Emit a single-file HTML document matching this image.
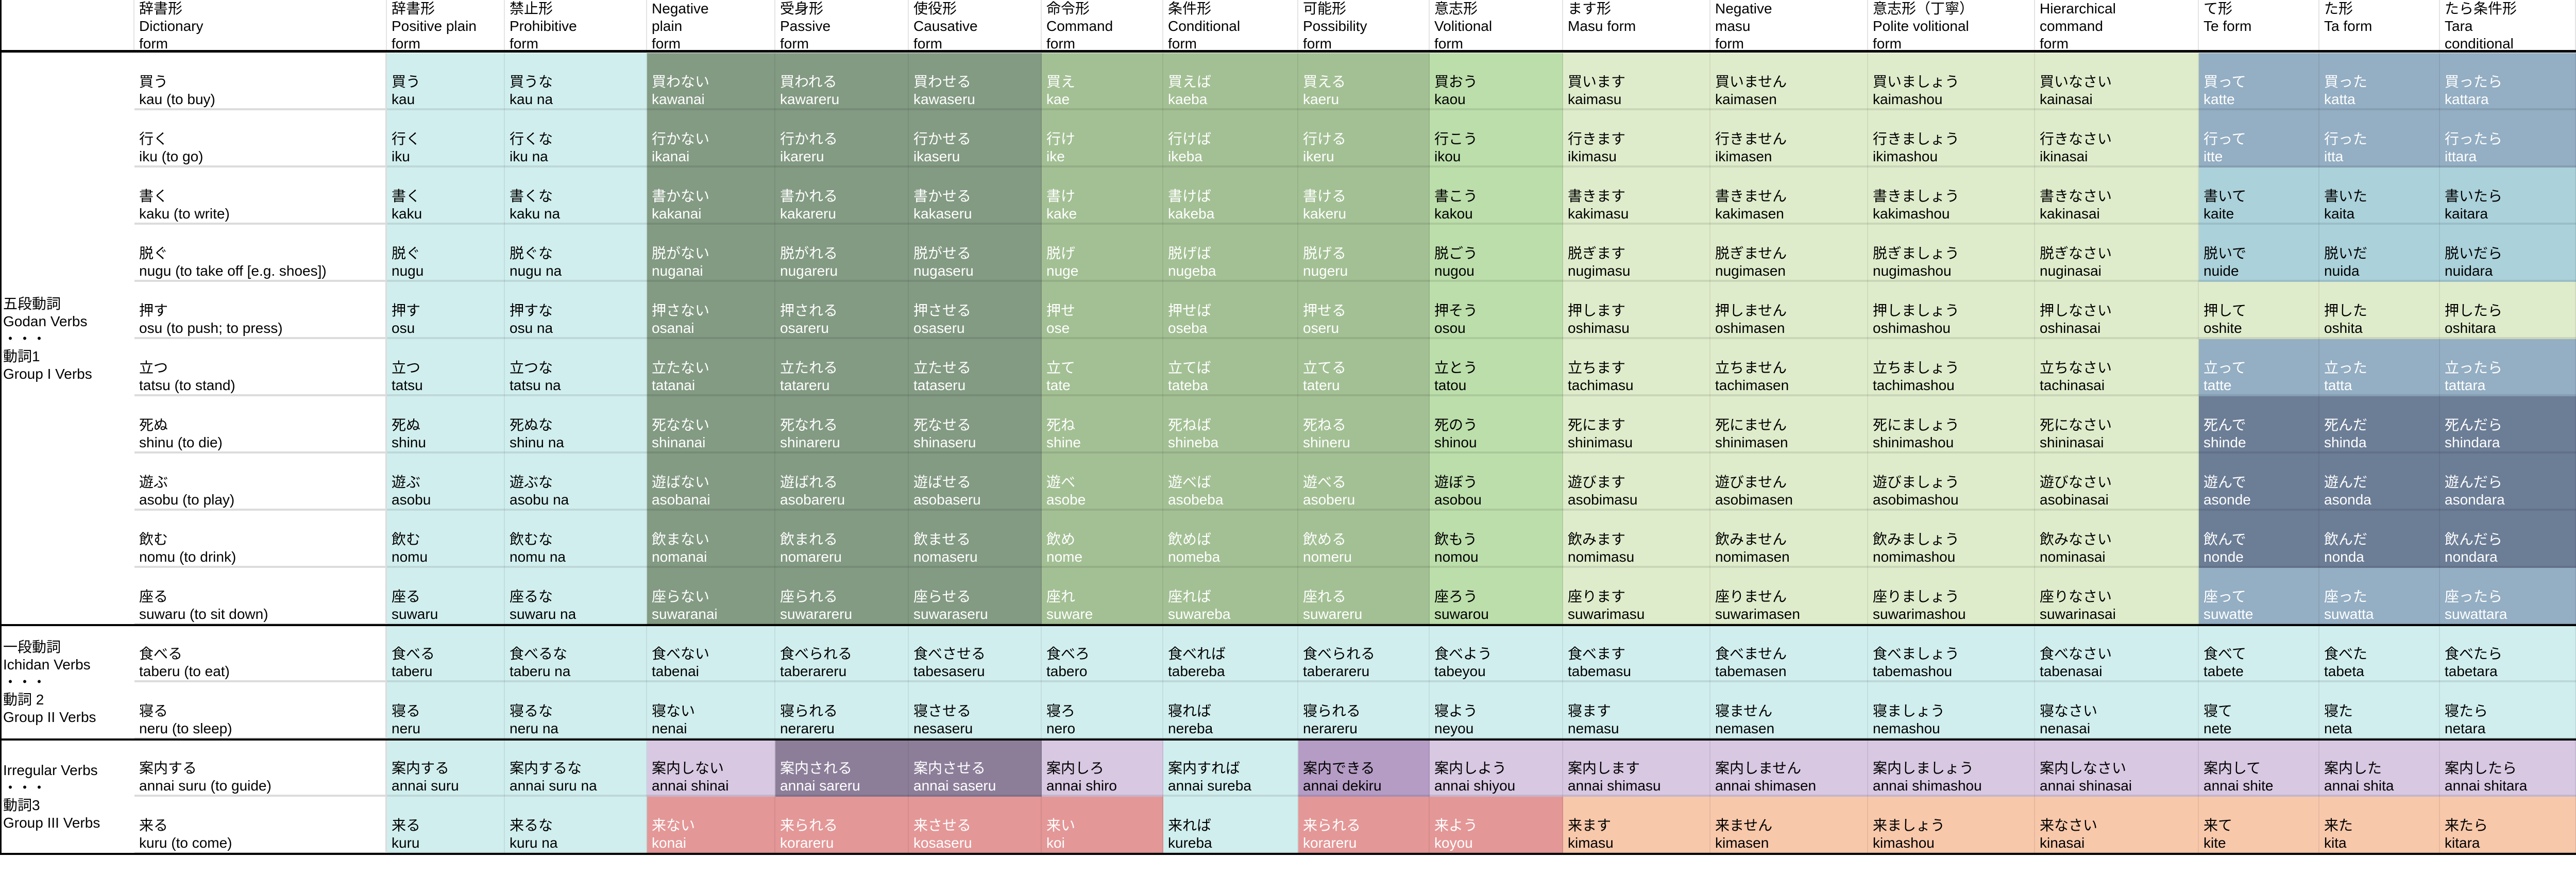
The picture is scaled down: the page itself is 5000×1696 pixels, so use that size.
<!DOCTYPE html>
<html><head><meta charset="utf-8">
<style>
html,body{margin:0;padding:0;background:#fff;}
#t{position:relative;width:5000px;height:1696px;overflow:hidden;background:#fff;font-family:"Liberation Sans","Noto Sans CJK JP",sans-serif;font-size:28px;line-height:34px;color:#000;}
.c{position:absolute;box-sizing:border-box;padding:0 0 4px 9px;display:flex;flex-direction:column;justify-content:flex-end;white-space:nowrap;overflow:hidden;box-shadow:inset -2px 0 0 rgba(0,0,0,0.07), inset 0 -4px 0 rgba(0,0,0,0.09);}
.h{position:absolute;box-sizing:border-box;padding:0 0 0 9px;white-space:nowrap;top:0;height:98px;box-shadow:inset -2px 0 0 #e4e4e4;}
.g{position:absolute;left:0;width:261px;box-sizing:border-box;padding-left:6px;display:flex;flex-direction:column;justify-content:center;line-height:34px;}
.ln{position:absolute;background:#000;}
</style></head>
<body>
<div id="t"></div>
<script>
const colEdges=[0,261,751,980,1256,1505,1764,2022,2258,2520,2775,3034,3320,3626,3950,4268,4502,4736,5000];
const headers=["","辞書形|Dictionary|form","辞書形|Positive plain|form","禁止形|Prohibitive|form","Negative|plain|form","受身形|Passive|form","使役形|Causative|form","命令形|Command|form","条件形|Conditional|form","可能形|Possibility|form","意志形|Volitional|form","ます形|Masu form","Negative|masu|form","意志形（丁寧）|Polite volitional|form","Hierarchical|command|form","て形|Te form","た形|Ta form","たら条件形|Tara|conditional"];
const verbs=[
"買う~kau (to buy)|買う~kau|買うな~kau na|買わない~kawanai|買われる~kawareru|買わせる~kawaseru|買え~kae|買えば~kaeba|買える~kaeru|買おう~kaou|買います~kaimasu|買いません~kaimasen|買いましょう~kaimashou|買いなさい~kainasai|買って~katte|買った~katta|買ったら~kattara",
"行く~iku (to go)|行く~iku|行くな~iku na|行かない~ikanai|行かれる~ikareru|行かせる~ikaseru|行け~ike|行けば~ikeba|行ける~ikeru|行こう~ikou|行きます~ikimasu|行きません~ikimasen|行きましょう~ikimashou|行きなさい~ikinasai|行って~itte|行った~itta|行ったら~ittara",
"書く~kaku (to write)|書く~kaku|書くな~kaku na|書かない~kakanai|書かれる~kakareru|書かせる~kakaseru|書け~kake|書けば~kakeba|書ける~kakeru|書こう~kakou|書きます~kakimasu|書きません~kakimasen|書きましょう~kakimashou|書きなさい~kakinasai|書いて~kaite|書いた~kaita|書いたら~kaitara",
"脱ぐ~nugu (to take off [e.g. shoes])|脱ぐ~nugu|脱ぐな~nugu na|脱がない~nuganai|脱がれる~nugareru|脱がせる~nugaseru|脱げ~nuge|脱げば~nugeba|脱げる~nugeru|脱ごう~nugou|脱ぎます~nugimasu|脱ぎません~nugimasen|脱ぎましょう~nugimashou|脱ぎなさい~nuginasai|脱いで~nuide|脱いだ~nuida|脱いだら~nuidara",
"押す~osu (to push; to press)|押す~osu|押すな~osu na|押さない~osanai|押される~osareru|押させる~osaseru|押せ~ose|押せば~oseba|押せる~oseru|押そう~osou|押します~oshimasu|押しません~oshimasen|押しましょう~oshimashou|押しなさい~oshinasai|押して~oshite|押した~oshita|押したら~oshitara",
"立つ~tatsu (to stand)|立つ~tatsu|立つな~tatsu na|立たない~tatanai|立たれる~tatareru|立たせる~tataseru|立て~tate|立てば~tateba|立てる~tateru|立とう~tatou|立ちます~tachimasu|立ちません~tachimasen|立ちましょう~tachimashou|立ちなさい~tachinasai|立って~tatte|立った~tatta|立ったら~tattara",
"死ぬ~shinu (to die)|死ぬ~shinu|死ぬな~shinu na|死なない~shinanai|死なれる~shinareru|死なせる~shinaseru|死ね~shine|死ねば~shineba|死ねる~shineru|死のう~shinou|死にます~shinimasu|死にません~shinimasen|死にましょう~shinimashou|死になさい~shininasai|死んで~shinde|死んだ~shinda|死んだら~shindara",
"遊ぶ~asobu (to play)|遊ぶ~asobu|遊ぶな~asobu na|遊ばない~asobanai|遊ばれる~asobareru|遊ばせる~asobaseru|遊べ~asobe|遊べば~asobeba|遊べる~asoberu|遊ぼう~asobou|遊びます~asobimasu|遊びません~asobimasen|遊びましょう~asobimashou|遊びなさい~asobinasai|遊んで~asonde|遊んだ~asonda|遊んだら~asondara",
"飲む~nomu (to drink)|飲む~nomu|飲むな~nomu na|飲まない~nomanai|飲まれる~nomareru|飲ませる~nomaseru|飲め~nome|飲めば~nomeba|飲める~nomeru|飲もう~nomou|飲みます~nomimasu|飲みません~nomimasen|飲みましょう~nomimashou|飲みなさい~nominasai|飲んで~nonde|飲んだ~nonda|飲んだら~nondara",
"座る~suwaru (to sit down)|座る~suwaru|座るな~suwaru na|座らない~suwaranai|座られる~suwarareru|座らせる~suwaraseru|座れ~suware|座れば~suwareba|座れる~suwareru|座ろう~suwarou|座ります~suwarimasu|座りません~suwarimasen|座りましょう~suwarimashou|座りなさい~suwarinasai|座って~suwatte|座った~suwatta|座ったら~suwattara",
"食べる~taberu (to eat)|食べる~taberu|食べるな~taberu na|食べない~tabenai|食べられる~taberareru|食べさせる~tabesaseru|食べろ~tabero|食べれば~tabereba|食べられる~taberareru|食べよう~tabeyou|食べます~tabemasu|食べません~tabemasen|食べましょう~tabemashou|食べなさい~tabenasai|食べて~tabete|食べた~tabeta|食べたら~tabetara",
"寝る~neru (to sleep)|寝る~neru|寝るな~neru na|寝ない~nenai|寝られる~nerareru|寝させる~nesaseru|寝ろ~nero|寝れば~nereba|寝られる~nerareru|寝よう~neyou|寝ます~nemasu|寝ません~nemasen|寝ましょう~nemashou|寝なさい~nenasai|寝て~nete|寝た~neta|寝たら~netara",
"案内する~annai suru (to guide)|案内する~annai suru|案内するな~annai suru na|案内しない~annai shinai|案内される~annai sareru|案内させる~annai saseru|案内しろ~annai shiro|案内すれば~annai sureba|案内できる~annai dekiru|案内しよう~annai shiyou|案内します~annai shimasu|案内しません~annai shimasen|案内しましょう~annai shimashou|案内しなさい~annai shinasai|案内して~annai shite|案内した~annai shita|案内したら~annai shitara",
"来る~kuru (to come)|来る~kuru|来るな~kuru na|来ない~konai|来られる~korareru|来させる~kosaseru|来い~koi|来れば~kureba|来られる~korareru|来よう~koyou|来ます~kimasu|来ません~kimasen|来ましょう~kimashou|来なさい~kinasai|来て~kite|来た~kita|来たら~kitara"
];
const rowColors=[
"WCCDDDEEEFHHHHBBB","WCCDDDEEEFHHHHBBB","WCCDDDEEEFHHHHLLL","WCCDDDEEEFHHHHLLL","WCCDDDEEEFHHHHHHH",
"WCCDDDEEEFHHHHBBB","WCCDDDEEEFHHHHSSS","WCCDDDEEEFHHHHSSS","WCCDDDEEEFHHHHSSS","WCCDDDEEEFHHHHBBB",
"WCCCCCCCCCCCCCCCC","WCCCCCCCCCCCCCCCC",
"WCCVPPVCMVVVVVVVV","WCCKKKKCKKOOOOOOO"];
const palette={W:"#ffffff",C:"#d1eeee",D:"#839a83",E:"#a3c094",F:"#bcdeab",H:"#dfeccb",B:"#94aec3",L:"#abd1da",S:"#6c7d96",V:"#d8c8e2",P:"#8c7e99",M:"#b59cc5",K:"#e49797",O:"#f8c8ab"};
const whiteText="DEBSPK";
const groups=[["五段動詞","Godan Verbs","・・・","動詞1","Group I Verbs"],["一段動詞","Ichidan Verbs","・・・","動詞 2","Group II Verbs"],["Irregular Verbs","・・・","動詞3","Group III Verbs"]];
const groupSizes=[10,2,2];

const T=document.getElementById('t');
const top0=103, rh=111;
headers.forEach(function(h,i){
  const d=document.createElement('div');
  
  
  d.className='h';
  d.style.left=colEdges[i]+'px';d.style.width=(colEdges[i+1]-colEdges[i])+'px';
  d.innerHTML=h.split('|').map(function(s){return '<div>'+s+'</div>';}).join('');
  T.appendChild(d);
});
verbs.forEach(function(row,r){
  const parts=row.split('|');
  parts.forEach(function(p,k){
    const ci=k+1;
    const code=rowColors[r][k];
    const d=document.createElement('div');
    
    
    d.className='c';
    d.style.left=colEdges[ci]+'px';d.style.width=(colEdges[ci+1]-colEdges[ci])+'px';
    d.style.top=(top0+r*rh)+'px';d.style.height=rh+'px';
    d.style.background=palette[code];
    if(code==='W'){d.style.boxShadow='inset -3px 0 0 #dcdcdc, inset 0 -4px 0 #dcdcdc';}
    if(whiteText.indexOf(code)>=0)d.style.color='#fff';
    const jp=p.split('~');
    d.innerHTML='<div>'+jp[0]+'</div><div>'+jp[1]+'</div>';
    T.appendChild(d);
  });
});
let gr=0;
groups.forEach(function(g,i){
  const d=document.createElement('div');
  
  
  d.className='g';
  d.style.top=(top0+gr*rh)+'px';d.style.height=(groupSizes[i]*rh)+'px';
  d.innerHTML=g.map(function(s){return '<div>'+s+'</div>';}).join('');
  T.appendChild(d);
  gr+=groupSizes[i];
});
function line(x,y,w,h,name){
  const l=document.createElement('div');
  
  
  l.className='ln';
  l.style.left=x+'px';l.style.top=y+'px';l.style.width=w+'px';l.style.height=h+'px';
  T.appendChild(l);
}
line(0,97,5000,5,'header-divider');
line(0,top0+10*rh-2,5000,4,'godan-divider');
line(0,top0+12*rh-2,5000,4,'ichidan-divider');
line(0,top0+14*rh-2,5000,4,'table-bottom-border');
line(0,0,3,top0+14*rh+2,'table-left-border');
</script>
</body></html>
